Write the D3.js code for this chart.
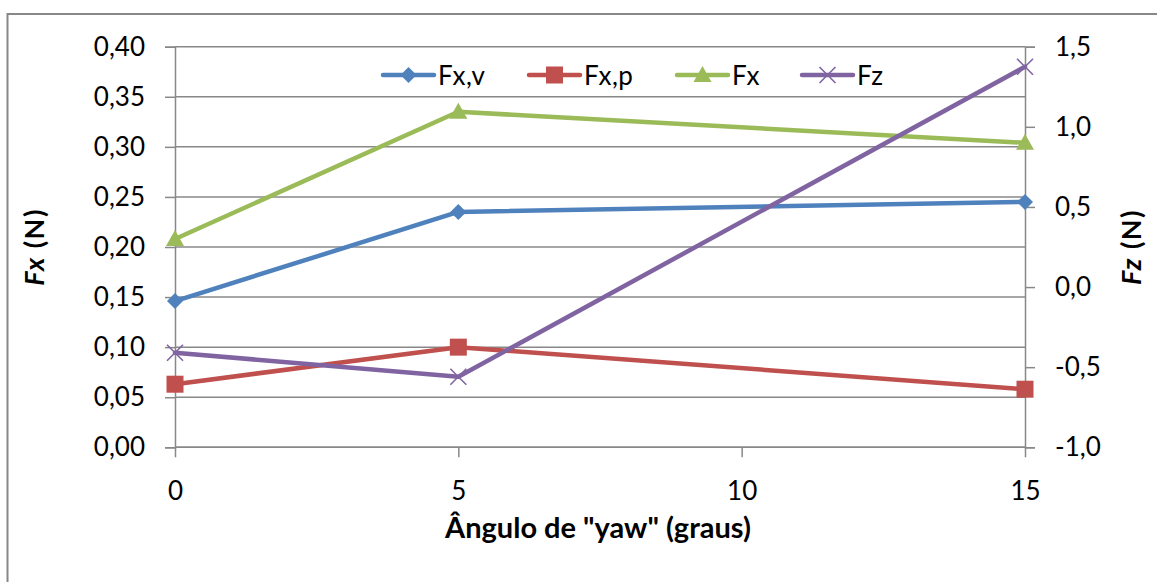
<!DOCTYPE html>
<html><head><meta charset="utf-8">
<script src="https://cdn.jsdelivr.net/npm/d3@7"></script>
<style>
html,body{margin:0;padding:0;background:#fff;}
svg{display:block;font-family:Lato,"Open Sans",sans-serif;}
</style></head>
<body>
<svg id="chart" width="1157" height="582"></svg>
<script>
const angles = [0, 5, 15];
const seriesNames = ["Fx,v", "Fx,p", "Fx", "Fz"];
const fxv = [0.146, 0.235, 0.245];
const fxp = [0.063, 0.100, 0.058];
const fx  = [0.208, 0.335, 0.304];
const fz  = [-0.41, -0.56, 1.375];
const xTicks = [0, 5, 10, 15];
const leftTicks = [0, 0.05, 0.10, 0.15, 0.20, 0.25, 0.30, 0.35, 0.40];
const rightTicks = [-1.0, -0.5, 0.0, 0.5, 1.0, 1.5];
const colors = ["#4F81BD", "#C0504D", "#9BBB59", "#8064A2"];
const symbols = ["diamond", "square", "triangle", "x"];

const svg = d3.select("#chart");
const L = 175, R = 1025, T = 46.7, B = 447.3;
const x = d3.scaleLinear().domain([0, 15]).range([L, R]);
const yL = d3.scaleLinear().domain([0, 0.40]).range([B, T]);
const yR = d3.scaleLinear().domain([-1.0, 1.5]).range([B, T]);
const fmt2 = v => d3.format(".2f")(v).replace(".", ",");
const fmt1 = v => d3.format(".1f")(v).replace(".", ",").replace("−", "-");
const grid = "#888888";

// outer border
svg.append("rect").attr("x", 7.5).attr("y", 14).attr("width", 1160).attr("height", 580)
  .attr("fill", "none").attr("stroke", grid).attr("stroke-width", 2);

// gridlines
svg.append("g").selectAll("line").data(leftTicks).join("line")
  .attr("x1", L).attr("x2", R).attr("y1", d => yL(d)).attr("y2", d => yL(d))
  .attr("stroke", grid).attr("stroke-width", 1.5);

// left axis
const gL = svg.append("g").attr("transform", `translate(${L},0)`)
  .call(d3.axisLeft(yL).tickValues(leftTicks).tickFormat(fmt2).tickSize(10).tickPadding(20));
// right axis
const gR = svg.append("g").attr("transform", `translate(${R},0)`)
  .call(d3.axisRight(yR).tickValues(rightTicks).tickFormat(fmt1).tickSize(10).tickPadding(20));
// bottom axis
const gB = svg.append("g").attr("transform", `translate(0,${B})`)
  .call(d3.axisBottom(x).tickValues(xTicks).tickFormat(d3.format("d")).tickSize(10).tickPadding(24));
[gL, gR, gB].forEach(g => {
  g.select(".domain").attr("stroke", grid).attr("stroke-width", 1.5);
  g.selectAll(".tick line").attr("stroke", grid).attr("stroke-width", 1.5);
  g.selectAll("text").attr("font-family", "Lato, sans-serif").attr("font-size", 26).attr("fill", "#000");
});
gB.select(".domain").remove();
gB.append("line").attr("x1", L).attr("x2", R).attr("stroke", grid).attr("stroke-width", 1.5);

// symbols
function marker(g, type, color) {
  if (type === "diamond") {
    g.append("path").attr("d", "M0,-8L8,0L0,8L-8,0Z").attr("fill", color);
  } else if (type === "square") {
    g.append("rect").attr("x", -8.5).attr("y", -8.5).attr("width", 17).attr("height", 17).attr("fill", color);
  } else if (type === "triangle") {
    g.append("path").attr("d", "M0,-9L9,7L-9,7Z").attr("fill", color);
  } else {
    g.append("path").attr("d", "M-8,-8L8,8M-8,8L8,-8").attr("stroke", color).attr("stroke-width", 1.6).attr("fill", "none");
  }
}

const allSeries = [
  {vals: fxv, y: yL}, {vals: fxp, y: yL}, {vals: fx, y: yL}, {vals: fz, y: yR}
];
allSeries.forEach((s, i) => {
  const pts = angles.map((a, j) => [x(a), s.y(s.vals[j])]);
  svg.append("path").attr("d", d3.line()(pts)).attr("fill", "none")
    .attr("stroke", colors[i]).attr("stroke-width", 4.5).attr("stroke-linejoin", "round").attr("stroke-linecap", "round");
  pts.forEach(p => {
    const g = svg.append("g").attr("transform", `translate(${p[0]},${p[1]})`);
    marker(g, symbols[i], colors[i]);
  });
});

// legend
const legendX = [383, 529, 677, 802];
const ly = 75;
seriesNames.forEach((n, i) => {
  svg.append("line").attr("x1", legendX[i]).attr("x2", legendX[i] + 51).attr("y1", ly).attr("y2", ly)
    .attr("stroke", colors[i]).attr("stroke-width", 4.5).attr("stroke-linecap", "round");
  const g = svg.append("g").attr("transform", `translate(${legendX[i] + 25.5},${ly})`);
  marker(g, symbols[i], colors[i]);
  svg.append("text").attr("x", legendX[i] + 55).attr("y", ly + 9.5).attr("font-size", 26)
    .attr("letter-spacing", 0.5).attr("fill", "#000").text(n);
});

// axis titles
svg.append("text").attr("x", 598).attr("y", 538).attr("text-anchor", "middle")
  .attr("font-size", 29).attr("font-weight", "bold").text('Ângulo de "yaw" (graus)');
const tl = svg.append("text").attr("transform", "translate(44,247) rotate(-90)").attr("text-anchor", "middle")
  .attr("font-size", 27).attr("font-weight", "bold").attr("letter-spacing", 1.5);
tl.append("tspan").attr("font-style", "italic").text("Fx");
tl.append("tspan").text(" (N)");
const tr = svg.append("text").attr("transform", "translate(1141,247) rotate(-90)").attr("text-anchor", "middle")
  .attr("font-size", 27).attr("font-weight", "bold").attr("letter-spacing", 1.5);
tr.append("tspan").attr("font-style", "italic").text("Fz");
tr.append("tspan").text(" (N)");
</script>
</body></html>
